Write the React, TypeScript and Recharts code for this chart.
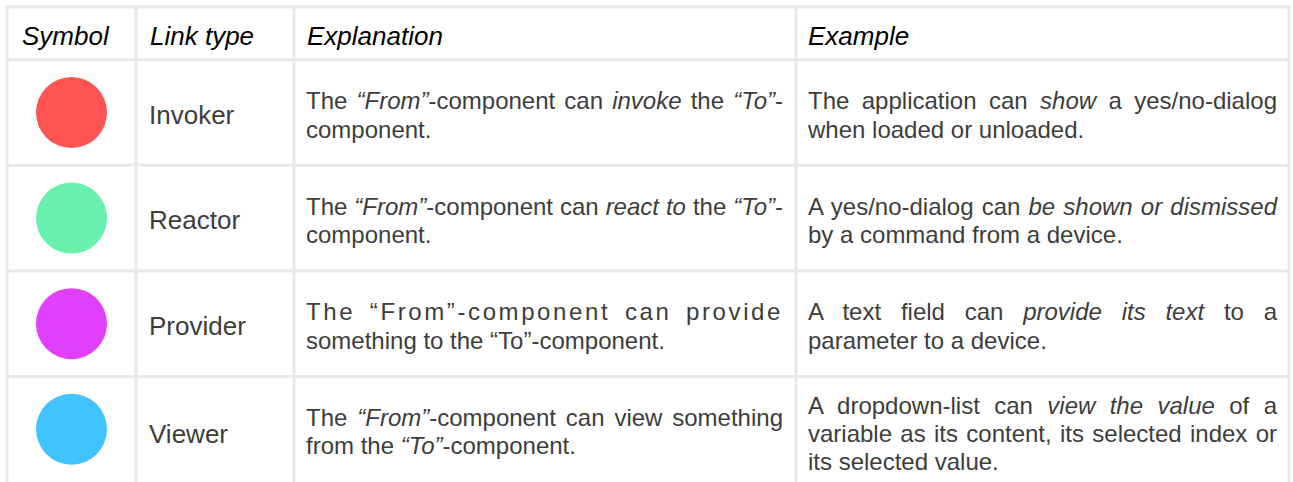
import { ScatterChart, Scatter, XAxis, YAxis, ReferenceLine, Cell } from 'recharts';

// table content
const headers = ['Symbol', 'Link type', 'Explanation', 'Example'];
const linkTypes = ['Invoker', 'Reactor', 'Provider', 'Viewer'];
const symbolColors = ['#FF5252', '#69F0AE', '#E040FB', '#40C4FF'];
// *...* marks italic runs
const explanations = [
  ['The *“From”*-component can *invoke* the *“To”*-', 'component.'],
  ['The *“From”*-component can *react to* the *“To”*-', 'component.'],
  ['The “From”-component can provide', 'something to the “To”-component.'],
  ['The *“From”*-component can view something', 'from the *“To”*-component.'],
];
const examples = [
  ['The application can *show* a yes/no-dialog', 'when loaded or unloaded.'],
  ['A yes/no-dialog can *be shown or dismissed*', 'by a command from a device.'],
  ['A text field can *provide its text* to a', 'parameter to a device.'],
  ['A dropdown-list can *view the value* of a', 'variable as its content, its selected index or', 'its selected value.'],
];
// row boundaries in row units (header is -1..-0.5)
const rowEdges = [-1, -0.5, 0.5, 1.5, 2.5];

const W = 1293;
const H = 482;
const TOP = 7;
const Y_MIN = -1;
const Y_MAX = 3.5;
const colEdges = [7, 136, 294, 796, 1289];
const GRID = '#e9e9e9';
const TEXT = '#3d3d3d';
const FONT = '"Liberation Sans", Arial, Helvetica, sans-serif';
const LINE_H = 28.4;

const yOf = (v: number) => TOP + ((v - Y_MIN) * (H - TOP)) / (Y_MAX - Y_MIN);
const rowTop = (i: number) => yOf(i - 0.5);
// three-line cell sits higher in its row
const textOffset = (n: number) => (n > 2 ? 15.2 : 27.4);
const halfPx = 1.5 / ((H - TOP) / (Y_MAX - Y_MIN));

const symbolData = linkTypes.map((name, i) => ({
  x: (colEdges[0] + colEdges[1]) / 2,
  row: i,
  name,
}));

function Rich({ text }: { text: string }) {
  return (
    <>
      {text.split('*').map((s, k) =>
        k % 2 ? <i key={k}>{s}</i> : <span key={k}>{s}</span>
      )}
    </>
  );
}

function CellText({ lines, left, width, top, spaced }: {
  lines: string[]; left: number; width: number; top: number; spaced?: boolean;
}) {
  return (
    <div style={{ position: 'absolute', left, top, width, fontSize: 24, lineHeight: LINE_H + 'px', color: TEXT }}>
      {lines.map((l, k) => {
        const last = k === lines.length - 1;
        return (
          <div
            key={k}
            style={{
              textAlign: last ? 'left' : 'justify',
              textAlignLast: last ? 'left' : 'justify',
              letterSpacing: spaced && k === 0 ? 2.6 : undefined,
              height: LINE_H,
            }}
          >
            <Rich text={l} />
          </div>
        );
      })}
    </div>
  );
}

const headerX = [22, 150, 307, 808];

export default function App() {
  const x0 = colEdges[0] - 1.5;
  const x1 = colEdges[colEdges.length - 1] + 1.5;
  return (
    <div style={{ position: 'absolute', left: 0, top: 0, width: W, height: H, background: '#fff', overflow: 'hidden', fontFamily: FONT }}>
      <ScatterChart width={W} height={H} margin={{ top: TOP, right: 0, bottom: 0, left: 0 }}>
        <XAxis type="number" dataKey="x" domain={[0, W]} hide />
        <YAxis type="number" dataKey="row" domain={[Y_MIN, Y_MAX]} reversed hide />
        {rowEdges.map(v => (
          <ReferenceLine
            key={'h' + v}
            segment={[{ x: x0, y: v }, { x: x1, y: v }]}
            stroke={GRID}
            strokeWidth={3}
            ifOverflow="visible"
          />
        ))}
        {colEdges.map(v => (
          <ReferenceLine
            key={'v' + v}
            segment={[{ x: v, y: Y_MIN - halfPx }, { x: v, y: Y_MAX }]}
            stroke={GRID}
            strokeWidth={3}
            ifOverflow="visible"
          />
        ))}
        <Scatter
          data={symbolData}
          isAnimationActive={false}
          shape={(p: any) => <circle cx={p.cx} cy={p.cy} r={35.5} fill={p.fill} />}
        >
          {symbolData.map((d, i) => (
            <Cell key={d.name} fill={symbolColors[i]} />
          ))}
        </Scatter>
      </ScatterChart>

      <div style={{ position: 'absolute', left: 0, top: 0, width: W, height: H, pointerEvents: 'none' }}>
        {headers.map((h, k) => (
          <div key={h} style={{ position: 'absolute', left: headerX[k], top: TOP + 14, fontSize: 26, lineHeight: '30px', fontStyle: 'italic', color: '#000' }}>
            {h}
          </div>
        ))}
        {linkTypes.map((t, i) => (
          <div key={t} style={{ position: 'absolute', left: 149, top: rowTop(i) + (i === 3 ? 42.5 : 40), fontSize: 26, lineHeight: '30px', color: TEXT }}>
            {t}
          </div>
        ))}
        {explanations.map((lines, i) => (
          <CellText key={'e' + i} lines={lines} left={306} width={477} top={rowTop(i) + textOffset(lines.length)} spaced={i === 2} />
        ))}
        {examples.map((lines, i) => (
          <CellText key={'x' + i} lines={lines} left={808} width={469} top={rowTop(i) + textOffset(lines.length)} />
        ))}
      </div>
    </div>
  );
}
